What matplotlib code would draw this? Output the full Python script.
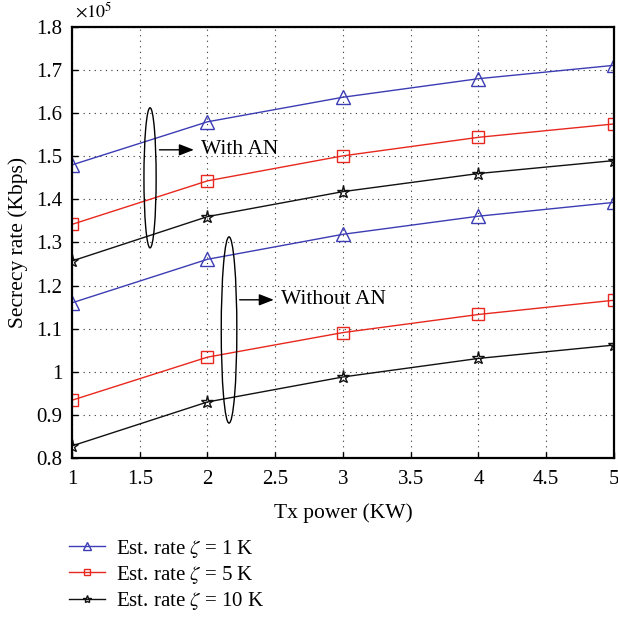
import matplotlib
matplotlib.use("Agg")
import matplotlib.pyplot as plt
from matplotlib.patches import Ellipse

plt.rcParams['font.family'] = ['Liberation Serif', 'DejaVu Serif']
plt.rcParams['mathtext.fontset'] = 'stix'

tx_power = [1, 2, 3, 4, 5]

# secrecy rate (x1e5 Kbps)
with_an_1k = [1.480, 1.580, 1.637, 1.680, 1.711]
with_an_5k = [1.342, 1.443, 1.501, 1.544, 1.575]
with_an_10k = [1.257, 1.360, 1.418, 1.460, 1.490]
without_an_1k = [1.160, 1.261, 1.319, 1.361, 1.393]
without_an_5k = [0.934, 1.034, 1.091, 1.133, 1.166]
without_an_10k = [0.828, 0.930, 0.988, 1.031, 1.062]

legend_labels = [r'Est. rate $\zeta$ = 1 K', r'Est. rate $\zeta$ = 5 K', r'Est. rate $\zeta$ = 10 K']

blue = '#3c3cb4'
red = '#e8281e'
black = '#111111'

fig = plt.figure(figsize=(6.18, 6.2), dpi=100)
ax = fig.add_axes([0.1165, 0.2613, 0.877, 0.6952])

markers = [('^', 10), ('s', 8.5), ('*', 9.5)]
colors = [blue, red, black]
for group in ([with_an_1k, with_an_5k, with_an_10k], [without_an_1k, without_an_5k, without_an_10k]):
    for data, c, (m, ms) in zip(group, colors, markers):
        ax.plot(tx_power, data, color=c, marker=m, ms=ms, mfc='none', mec=c, lw=1.0, mew=1.0)

ax.set_xlim(1, 5)
ax.set_ylim(0.8, 1.8)
ax.set_xticks([1, 1.5, 2, 2.5, 3, 3.5, 4, 4.5, 5])
ax.set_xticklabels(['1', '1.5', '2', '2.5', '3', '3.5', '4', '4.5', '5'])
ax.set_yticks([0.8, 0.9, 1.0, 1.1, 1.2, 1.3, 1.4, 1.5, 1.6, 1.7, 1.8])
ax.set_yticklabels(['0.8', '0.9', '1', '1.1', '1.2', '1.3', '1.4', '1.5', '1.6', '1.7', '1.8'])
ax.tick_params(axis='x', direction='in', labelsize=15, length=4, width=1, pad=9)
ax.tick_params(axis='y', direction='in', labelsize=15, length=4, width=1, pad=7)
ax.grid(True, linestyle=(0, (1, 4)), color='#333333', lw=0.8)
for s in ax.spines.values():
    s.set_linewidth(1.6)

ax.set_xlabel('Tx power (KW)', fontsize=15.5, labelpad=10)
ax.set_ylabel('Secrecy rate (Kbps)', fontsize=15.5, labelpad=6)
ax.text(0.005, 1.012, r'$\times10^5$', transform=ax.transAxes, fontsize=13, ha='left', va='bottom')

# group annotations
ax.add_patch(Ellipse((1.576, 1.45), 0.09, 0.325, fill=False, ec='black', lw=1.0, zorder=5))
ax.annotate('', xy=(1.92, 1.515), xytext=(1.625, 1.515),
            arrowprops=dict(arrowstyle='-|>,head_length=0.9,head_width=0.35', color='black', lw=1.0))
ax.text(1.955, 1.515, 'With AN', fontsize=15.5, va='center', ha='left')

ax.add_patch(Ellipse((2.159, 1.097), 0.115, 0.432, fill=False, ec='black', lw=1.0, zorder=5))
ax.annotate('', xy=(2.51, 1.167), xytext=(2.217, 1.167),
            arrowprops=dict(arrowstyle='-|>,head_length=0.9,head_width=0.35', color='black', lw=1.0))
ax.text(2.545, 1.167, 'Without AN', fontsize=15.5, va='center', ha='left')

leg_handles = []
for c, (m, ms) in zip(colors, [('^', 6), ('s', 5), ('*', 6)]):
    h, = ax.plot([], [], color=c, marker=m, ms=ms, mfc='none', mec=c, lw=1.0)
    leg_handles.append(h)
fig.legend(leg_handles, legend_labels, loc='upper left', bbox_to_anchor=(0.112, 0.133),
           frameon=False, fontsize=15, handlelength=1.7, handletextpad=0.55,
           labelspacing=0.2, borderaxespad=0, borderpad=0)

fig.savefig('out.png', dpi=100)
